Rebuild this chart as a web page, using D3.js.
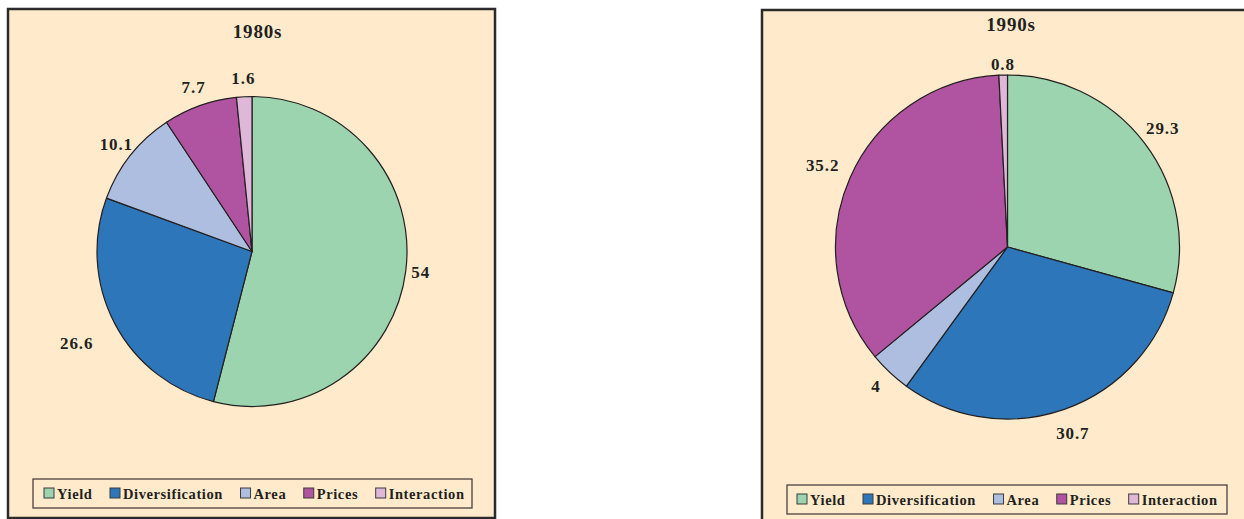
<!DOCTYPE html>
<html>
<head>
<meta charset="utf-8">
<script src="https://cdn.jsdelivr.net/npm/d3@7"></script>
<style>
  html, body { margin: 0; padding: 0; background: #ffffff; }
  svg { display: block; }
  text { font-family: "Liberation Serif", "DejaVu Serif", serif; font-weight: bold; fill: #231f20; }
</style>
</head>
<body>
<svg id="chart" width="1244" height="519"></svg>
<script>
// ---- data ----
const categories = ["Yield", "Diversification", "Area", "Prices", "Interaction"];
const values1980s = [54, 26.6, 10.1, 7.7, 1.6];
const values1990s = [29.3, 30.7, 4, 35.2, 0.8];
const titles = ["1980s", "1990s"];
const colors = ["#9bd4ae", "#2e76ba", "#aebee0", "#b054a2", "#dfb8d9"];

// ---- layout ----
const panels = [
  { title: titles[0], values: values1980s, x: 8, y: 9, w: 487, h: 509, cx: 252, cy: 251.5, r: 155,
    labelR: [170, 198, 173, 174, 173], titleX: 257.5, titleY: 31,
    legend: { x: 33, y: 479, w: 439, h: 29, startX: 44 } },
  { title: titles[1], values: values1990s, x: 762, y: 10, w: 520, h: 530, cx: 1007.5, cy: 247, r: 172,
    labelR: [195, 198, 192, 202, 183], titleX: 1011, titleY: 24,
    legend: { x: 787, y: 485, w: 440, h: 29, startX: 797 } }
];

const svg = d3.select("#chart");
const color = d3.scaleOrdinal().domain(categories).range(colors);
const pie = d3.pie().sort(null).value(d => d.value);

panels.forEach(p => {
  const g = svg.append("g");
  g.append("rect")
    .attr("x", p.x).attr("y", p.y).attr("width", p.w).attr("height", p.h)
    .attr("fill", "#ffebcc").attr("stroke", "#2b2b2b").attr("stroke-width", 2.5);

  g.append("text")
    .attr("x", p.titleX).attr("y", p.titleY)
    .attr("text-anchor", "middle").attr("dominant-baseline", "central")
    .attr("font-size", 19).attr("letter-spacing", 0.8).text(p.title);

  const data = categories.map((c, i) => ({ name: c, value: p.values[i] }));
  const arcs = pie(data);
  const arc = d3.arc().innerRadius(0).outerRadius(p.r);

  const pg = g.append("g").attr("transform", `translate(${p.cx},${p.cy})`);
  pg.selectAll("path").data(arcs).join("path")
    .attr("d", arc)
    .attr("fill", d => color(d.data.name))
    .attr("stroke", "#231f20").attr("stroke-width", 1.2).attr("stroke-linejoin", "round");

  pg.selectAll("text").data(arcs).join("text")
    .attr("transform", (d, i) => {
      const la = d3.arc().innerRadius(p.labelR[i]).outerRadius(p.labelR[i]);
      return `translate(${la.centroid(d)})`;
    })
    .attr("text-anchor", "middle").attr("dominant-baseline", "central")
    .attr("font-size", 17).attr("letter-spacing", 0.9)
    .text(d => d.data.value);

  // legend
  const L = p.legend;
  const lg = g.append("g");
  lg.append("rect").attr("x", L.x).attr("y", L.y).attr("width", L.w).attr("height", L.h)
    .attr("fill", "none").attr("stroke", "#4a4040").attr("stroke-width", 1.3);
  let cursor = L.startX;
  const midY = L.y + L.h / 2;
  categories.forEach(c => {
    lg.append("rect").attr("x", cursor).attr("y", midY - 5.5).attr("width", 10).attr("height", 10)
      .attr("fill", color(c)).attr("stroke", "#3a3a3a").attr("stroke-width", 1);
    const t = lg.append("text").attr("x", cursor + 13).attr("y", midY)
      .attr("dominant-baseline", "central").attr("font-size", 14.5).attr("letter-spacing", 0.6).text(c);
    cursor += 13 + t.node().getComputedTextLength() + 17.5;
  });
});
</script>
</body>
</html>
